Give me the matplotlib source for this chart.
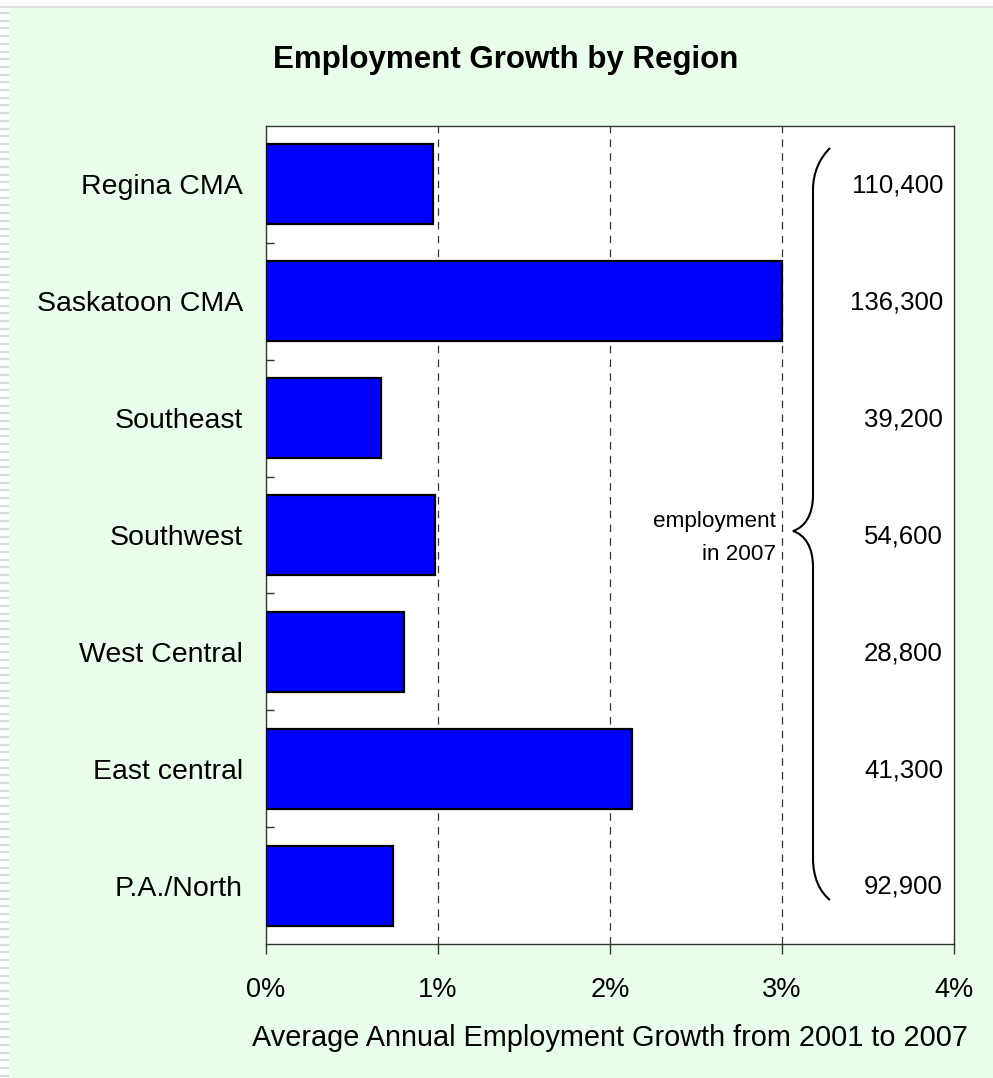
import matplotlib
matplotlib.use("Agg")
import matplotlib.pyplot as plt
from matplotlib.path import Path
from matplotlib.patches import PathPatch, Rectangle
from matplotlib.lines import Line2D
from matplotlib.ticker import FuncFormatter, FixedLocator

plt.rcParams['font.family'] = ['Liberation Sans', 'DejaVu Sans']

regions = ["Regina CMA", "Saskatoon CMA", "Southeast", "Southwest",
           "West Central", "East central", "P.A./North"]
growth_pct = [0.97, 3.00, 0.67, 0.98, 0.80, 2.13, 0.74]
employment_2007 = ["110,400", "136,300", "39,200", "54,600",
                   "28,800", "41,300", "92,900"]
x_ticks = [0, 1, 2, 3, 4]

W, H = 993, 1078
fig = plt.figure(figsize=(W / 100, H / 100), dpi=100)
fig.patch.set_facecolor("#EAFDEA")

# page decoration: white strip on top, textured strip on the left
fig.patches.append(Rectangle((0, 1 - 7 / H), 1, 7 / H, transform=fig.transFigure,
                             facecolor="white", edgecolor="none", zorder=0))
fig.lines.append(Line2D([0, 1], [1 - 6.5 / H] * 2, transform=fig.transFigure,
                        color="#D8D8D8", lw=1.2))
fig.patches.append(Rectangle((0, 0), 9 / W, 1 - 7 / H, transform=fig.transFigure,
                             facecolor="white", edgecolor="none", zorder=0))
yy = 13.0
while yy < H:
    fig.lines.append(Line2D([0, 8 / W], [1 - yy / H] * 2, transform=fig.transFigure,
                            color="#DADADA", lw=1.6))
    yy += 7.7

ax = fig.add_axes([266 / W, 1 - 944 / H, 688 / W, 818 / H])
ax.set_facecolor("white")

ypos = list(range(len(regions)))
ax.barh(ypos, growth_pct, height=0.685, color="#0000FF", edgecolor="black",
        linewidth=1.6, zorder=3)

ax.set_xlim(0, 4)
ax.set_ylim(len(regions) - 0.5, -0.5)

ax.xaxis.set_major_locator(FixedLocator(x_ticks))
ax.xaxis.set_major_formatter(FuncFormatter(lambda v, p: f"{v:.0f}%"))
ax.tick_params(axis="x", direction="out", length=7, width=1, color="#333333",
               labelsize=19.5, pad=16.5)

ax.set_yticks(ypos)
ax.set_yticklabels(regions)
ax.set_yticks([i + 0.5 for i in range(len(regions) - 1)], minor=True)
ax.tick_params(axis="y", which="major", length=0, labelsize=20.5, pad=16.5)
ax.tick_params(axis="y", which="minor", direction="in", length=6, width=1,
               color="#333333")

for gx in x_ticks[1:-1]:
    ax.axvline(gx, color="#333333", lw=0.9, ls=(0, (6, 5)), zorder=1)

for s in ax.spines.values():
    s.set_color("#333333")
    s.set_linewidth(1.0)

ax.set_xlabel("Average Annual Employment Growth from 2001 to 2007",
              fontsize=20.8, labelpad=15.5)

for i, txt in enumerate(employment_2007):
    ax.text((943 - 266) / 688, i + 0.012, txt, transform=ax.get_yaxis_transform(),
            ha="right", va="center", fontsize=18.5)

# curly brace grouping the employment figures
def af(px, py):
    return ((px - 266) / 688, 1 - (py - 126) / 818)

pts = [(830, 148), (820, 158), (813, 172), (813, 190), (813, 495),
       (813, 515), (805, 527), (793, 531),
       (805, 535), (813, 547), (813, 567), (813, 858),
       (813, 878), (820, 892), (830, 900)]
codes = [Path.MOVETO, Path.CURVE4, Path.CURVE4, Path.CURVE4, Path.LINETO,
         Path.CURVE4, Path.CURVE4, Path.CURVE4,
         Path.CURVE4, Path.CURVE4, Path.CURVE4, Path.LINETO,
         Path.CURVE4, Path.CURVE4, Path.CURVE4]
brace = Path([af(*p) for p in pts], codes)
ax.add_patch(PathPatch(brace, transform=ax.transAxes, facecolor="none",
                       edgecolor="black", lw=1.5, zorder=4))

ax.text(*af(776, 527), "employment", transform=ax.transAxes,
        ha="right", va="baseline", fontsize=16.2)
ax.text(*af(776, 560), "in 2007", transform=ax.transAxes,
        ha="right", va="baseline", fontsize=16.2)

fig.text(506 / W, 1 - 68 / H, "Employment Growth by Region", ha="center",
         va="baseline", fontsize=22.5, fontweight="bold")

fig.savefig("out.png", dpi=100, facecolor=fig.get_facecolor())
